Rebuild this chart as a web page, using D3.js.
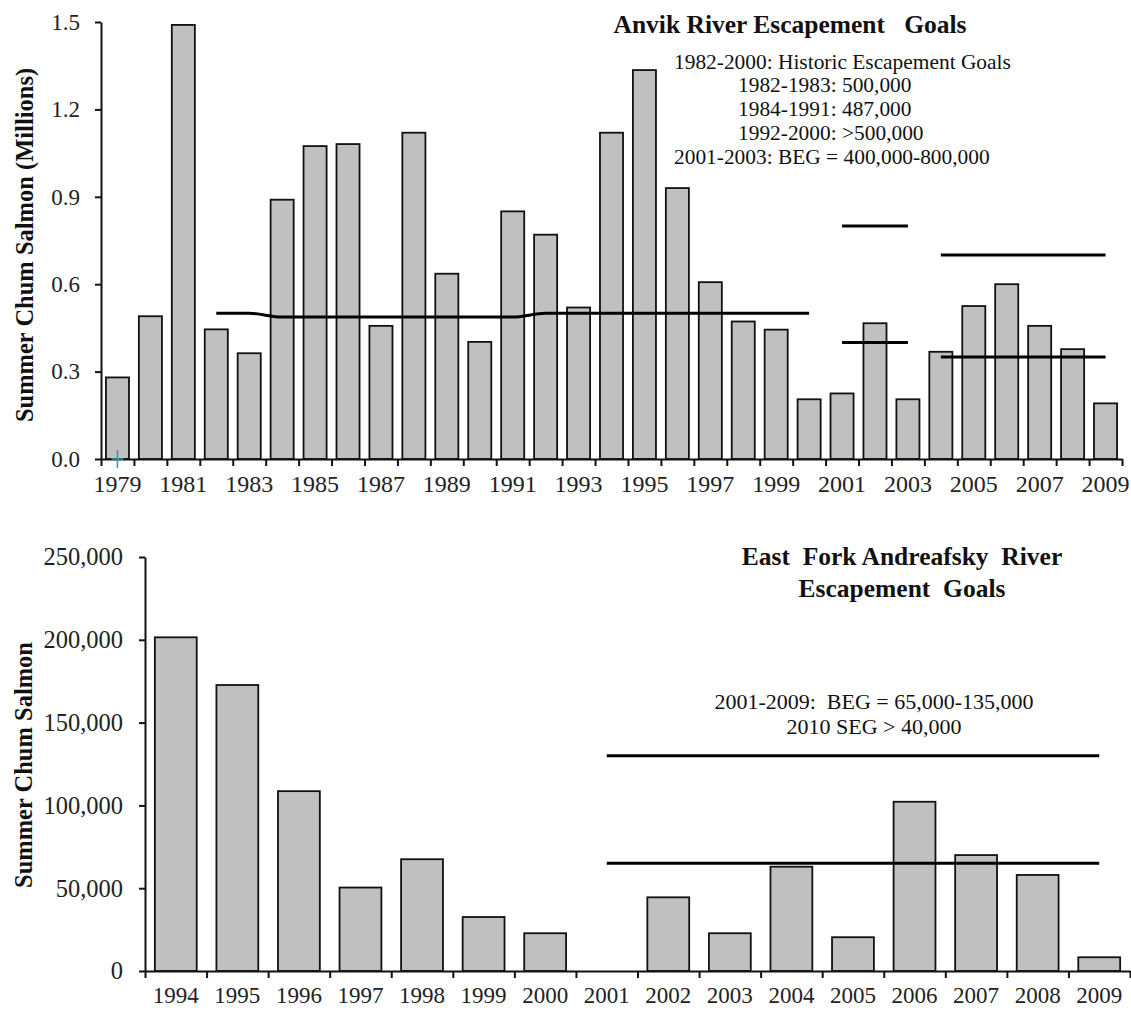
<!DOCTYPE html>
<html><head><meta charset="utf-8">
<script src="https://cdn.jsdelivr.net/npm/d3@7"></script>
<style>
body{margin:0;background:#fff}
svg text{font-family:"Liberation Serif","Times New Roman",serif;white-space:pre}
</style>
</head><body>
<svg id="c" width="1131" height="1010"></svg>
<script>
// ---------- Anvik River ----------
const anvikYears = [1979,1980,1981,1982,1983,1984,1985,1986,1987,1988,1989,1990,1991,1992,1993,1994,1995,1996,1997,1998,1999,2000,2001,2002,2003,2004,2005,2006,2007,2008,2009];
const anvikEscapement = [0.28,0.49,1.49,0.445,0.363,0.89,1.074,1.081,0.457,1.12,0.636,0.402,0.85,0.77,0.52,1.12,1.335,0.93,0.607,0.472,0.444,0.205,0.225,0.466,0.205,0.368,0.525,0.60,0.457,0.377,0.191];
const anvikYTicks = [0,0.3,0.6,0.9,1.2,1.5];
const anvikXLabels = [1979,1981,1983,1985,1987,1989,1991,1993,1995,1997,1999,2001,2003,2005,2007,2009];
const anvikHistoricYears = [1982,1983,1984,1985,1986,1987,1988,1989,1990,1991,1992,1993,1994,1995,1996,1997,1998,1999,2000];
const anvikHistoricGoal = [0.5,0.5,0.487,0.487,0.487,0.487,0.487,0.487,0.487,0.487,0.5,0.5,0.5,0.5,0.5,0.5,0.5,0.5,0.5];
const anvikBEG1Years = [2001,2003];
const anvikBEG1Low = 0.4, anvikBEG1High = 0.8;
const anvikBEG2Years = [2004,2009];
const anvikBEG2Low = 0.35, anvikBEG2High = 0.7;
const anvikTitle = "Anvik River Escapement   Goals";
const anvikNotes = ["1982-2000: Historic Escapement Goals","1982-1983: 500,000","1984-1991: 487,000","1992-2000: >500,000","2001-2003: BEG = 400,000-800,000"];
const anvikYLabel = "Summer Chum Salmon (Millions)";

// ---------- East Fork Andreafsky River ----------
const andYears = [1994,1995,1996,1997,1998,1999,2000,2001,2002,2003,2004,2005,2006,2007,2008,2009];
const andEscapement = [201500,172700,108600,50400,67500,32600,22800,null,44500,22800,63000,20400,102200,70000,58000,8300];
const andYTicks = [0,50000,100000,150000,200000,250000];
const andBEGYears = [2001,2009];
const andBEGLow = 65000, andBEGHigh = 130000;
const andTitle = ["East  Fork Andreafsky  River","Escapement  Goals"];
const andNotes = ["2001-2009:  BEG = 65,000-135,000","2010 SEG > 40,000"];
const andYLabel = "Summer Chum Salmon";

const svg = d3.select("#c");
const BAR_FILL = "#c0c0c0";

function drawAxes(g, x, y, xTicksN, left, right, bottom, top, opts){
  const ya = d3.axisLeft(y).tickValues(opts.yTicks).tickFormat(opts.yFmt)
    .tickSize(6).tickSizeOuter(0).tickPadding(opts.yPad);
  const yg = g.append("g").attr("transform",`translate(${left},0)`).call(ya);
  yg.selectAll("text").attr("font-size",opts.yFont).attr("fill","#222");
  yg.selectAll("line,path").attr("stroke","#111").attr("stroke-width",2);
  const xl = d3.scaleLinear().domain([0,xTicksN]).range([left,right]);
  const xa = d3.axisBottom(xl).tickValues(d3.range(xTicksN+1)).tickFormat("").tickSize(7).tickSizeOuter(0);
  const xg = g.append("g").attr("transform",`translate(0,${bottom})`).call(xa);
  xg.selectAll("line,path").attr("stroke","#111").attr("stroke-width",2);
  const xla = d3.axisBottom(x).tickValues(opts.xLabels).tickSize(0).tickPadding(opts.xPad);
  const xlg = g.append("g").attr("transform",`translate(0,${bottom})`).call(xla);
  xlg.select("path").remove();
  xlg.selectAll("text").attr("font-size",opts.xFont).attr("fill","#222");
}

// ===== Top chart =====
(function(){
  const left=101,right=1122,top=22,bottom=459;
  const g = svg.append("g");
  const x = d3.scaleBand().domain(anvikYears).range([left,right]).paddingInner(0.3).paddingOuter(0.15);
  const y = d3.scaleLinear().domain([0,1.5]).range([bottom,top]);
  g.selectAll("rect.bar").data(anvikYears.map((yr,i)=>({yr,v:anvikEscapement[i]})))
    .enter().append("rect").attr("class","bar")
    .attr("x",d=>x(d.yr)).attr("width",x.bandwidth())
    .attr("y",d=>y(d.v)).attr("height",d=>y(0)-y(d.v))
    .attr("fill",BAR_FILL).attr("stroke","#111").attr("stroke-width",1.8);
  drawAxes(g,x,y,anvikYears.length,left,right,bottom,top,{
    yTicks:anvikYTicks,yFmt:d3.format(".1f"),yFont:23,yPad:15,
    xLabels:anvikXLabels,xFont:24,xPad:16});
  const cx = yr => x(yr)+x.bandwidth()/2;
  g.append("line").attr("x1",cx(1979)).attr("x2",cx(1979)).attr("y1",bottom-9).attr("y2",bottom+9)
    .attr("stroke","#2aa0a0").attr("stroke-width",1.5);
  g.append("line").attr("x1",cx(1979)-6).attr("x2",cx(1979)+6).attr("y1",bottom).attr("y2",bottom)
    .attr("stroke","#2aa0a0").attr("stroke-width",1.5);
  const line = d3.line().x(d=>cx(d[0])).y(d=>y(d[1])).curve(d3.curveMonotoneX);
  g.append("path").datum(anvikHistoricYears.map((yr,i)=>[yr,anvikHistoricGoal[i]]))
    .attr("d",line).attr("fill","none").attr("stroke","#000").attr("stroke-width",3);
  const seg = (yrs,v)=>g.append("line").attr("x1",cx(yrs[0])).attr("x2",cx(yrs[1]))
    .attr("y1",y(v)).attr("y2",y(v)).attr("stroke","#000").attr("stroke-width",3);
  seg(anvikBEG1Years,anvikBEG1Low); seg(anvikBEG1Years,anvikBEG1High);
  seg(anvikBEG2Years,anvikBEG2Low); seg(anvikBEG2Years,anvikBEG2High);
  g.append("text").attr("x",790).attr("y",33).attr("text-anchor","middle")
    .attr("font-size",25.5).attr("font-weight","bold").attr("fill","#111").text(anvikTitle);
  const nx=[674,738,738,738,674], ny=[69,92,116,140,164];
  anvikNotes.forEach((t,i)=>g.append("text").attr("x",nx[i]).attr("y",ny[i])
    .attr("font-size",21.4).attr("fill","#111").text(t));
  g.append("text").attr("transform",`translate(24,245) rotate(-90)`).attr("dy","0.35em")
    .attr("text-anchor","middle").attr("font-size",24.5).attr("font-weight","bold").attr("fill","#111").text(anvikYLabel);
})();

// ===== Bottom chart =====
(function(){
  const left=145,right=1130,top=557,bottom=971;
  const g = svg.append("g");
  const x = d3.scaleBand().domain(andYears).range([left,right]).paddingInner(0.32).paddingOuter(0.16);
  const y = d3.scaleLinear().domain([0,250000]).range([bottom,top]);
  g.selectAll("rect.bar").data(andYears.map((yr,i)=>({yr,v:andEscapement[i]})).filter(d=>d.v!=null))
    .enter().append("rect").attr("class","bar")
    .attr("x",d=>x(d.yr)).attr("width",x.bandwidth())
    .attr("y",d=>y(d.v)).attr("height",d=>y(0)-y(d.v))
    .attr("fill",BAR_FILL).attr("stroke","#111").attr("stroke-width",1.8);
  drawAxes(g,x,y,andYears.length,left,right,bottom,top,{
    yTicks:andYTicks,yFmt:d3.format(","),yFont:24.5,yPad:16,
    xLabels:andYears,xFont:23,xPad:16});
  const cx = yr => x(yr)+x.bandwidth()/2;
  const seg = (yrs,v)=>g.append("line").attr("x1",cx(yrs[0])).attr("x2",cx(yrs[1]))
    .attr("y1",y(v)).attr("y2",y(v)).attr("stroke","#000").attr("stroke-width",3);
  seg(andBEGYears,andBEGLow); seg(andBEGYears,andBEGHigh);
  g.append("text").attr("x",902).attr("y",564.5).attr("text-anchor","middle")
    .attr("font-size",25.5).attr("font-weight","bold").attr("fill","#111").text(andTitle[0]);
  g.append("text").attr("x",902).attr("y",596.5).attr("text-anchor","middle")
    .attr("font-size",25.5).attr("font-weight","bold").attr("fill","#111").text(andTitle[1]);
  const ny=[709,734];
  andNotes.forEach((t,i)=>g.append("text").attr("x",874).attr("y",ny[i]).attr("text-anchor","middle")
    .attr("font-size",22).attr("fill","#111").text(t));
  g.append("text").attr("transform",`translate(23,765) rotate(-90)`).attr("dy","0.35em")
    .attr("text-anchor","middle").attr("font-size",24.5).attr("font-weight","bold").attr("fill","#111").text(andYLabel);
})();
</script>
</body></html>
